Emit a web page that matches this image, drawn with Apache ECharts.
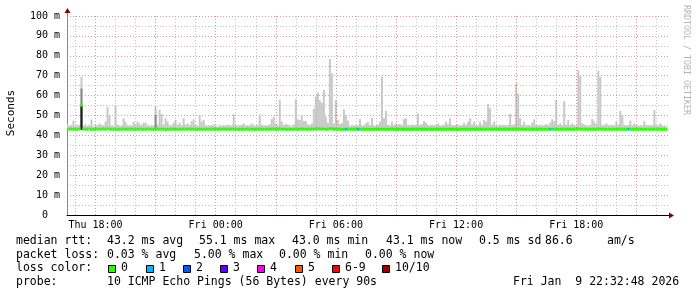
<!DOCTYPE html>
<html><head><meta charset="utf-8">
<script src="https://cdn.jsdelivr.net/npm/echarts@6/dist/echarts.min.js"></script>
<style>html,body{margin:0;padding:0;background:#fff}#c{width:697px;height:297px}</style>
</head><body><div id="c"></div>
<script>
// time base: hours since Thu 00:00, one sample every 6 minutes
const startHour = 16.6;
const stepHour = 0.1;
const axisMinHour = 16.577;
const axisMaxHour = 46.63;
const xTickHours = [18, 24, 30, 36, 42];
const xTickLabels = ['Thu 18:00', 'Fri 00:00', 'Fri 06:00', 'Fri 12:00', 'Fri 18:00'];
const yMax = 100;

// top of the smoke (slowest ping), ms
const smokeTop = [
45.7,44.8,45.2,47.4,44.9,45.3,44.7,69.5,45.0,45.7,
44.8,45.1,48.0,44.5,45.3,44.9,46.0,45.2,44.8,46.9,
54.4,50.2,45.0,44.7,55.3,45.4,45.0,44.8,48.6,46.9,
45.2,45.0,44.9,46.9,45.3,46.9,46.0,45.1,46.4,46.4,
45.0,44.8,45.3,44.9,54.4,45.6,52.8,50.8,45.4,48.6,
46.9,45.2,44.9,46.4,47.7,45.3,46.4,45.0,48.6,45.4,
46.0,45.1,47.2,48.1,45.3,44.9,50.3,46.9,47.7,45.2,
44.8,45.0,44.7,45.5,44.9,44.3,45.1,44.8,45.4,44.9,
45.2,44.7,45.0,50.6,45.3,44.8,45.1,45.4,46.0,44.9,
45.2,44.8,46.0,45.3,44.7,45.1,50.6,45.4,44.9,45.2,
45.0,45.6,48.2,49.4,46.0,45.3,57.9,47.0,45.2,46.0,
45.4,44.9,44.4,45.5,58.1,48.1,47.7,50.3,47.2,47.2,
45.6,45.2,45.9,53.3,59.5,61.5,57.8,56.4,62.8,49.4,
46.2,78.4,71.2,46.0,57.8,47.7,45.7,46.1,53.1,50.3,
47.4,44.4,45.2,44.9,45.3,44.8,48.2,45.1,44.9,46.0,
46.9,45.2,48.9,45.0,44.8,45.3,46.9,69.5,48.6,52.3,
45.4,45.0,46.9,45.2,46.0,45.3,45.7,45.1,48.2,48.6,
45.2,44.9,45.4,45.2,45.0,51.1,45.3,45.6,47.2,46.4,
45.1,44.8,45.3,44.9,45.2,46.0,45.0,44.8,45.3,46.9,
45.6,48.6,45.2,44.9,45.2,45.5,44.8,45.1,46.4,45.3,
46.9,48.6,45.4,46.9,45.2,45.0,46.9,45.3,47.7,46.9,
55.8,53.6,45.4,46.9,45.1,44.8,45.3,45.0,45.2,44.9,
45.3,50.8,45.2,45.6,66.2,61.0,48.6,45.3,46.9,45.0,
45.2,44.7,46.4,48.1,45.3,45.0,45.2,44.9,45.2,45.7,
45.1,46.4,48.1,47.2,57.8,45.3,46.0,45.1,57.3,45.4,
47.7,45.2,46.0,45.3,45.1,72.9,69.8,46.0,45.4,45.2,
44.9,45.3,48.2,46.9,45.6,72.4,69.5,45.2,45.0,46.0,
45.3,44.9,45.2,45.0,46.9,45.4,52.3,50.3,45.2,44.9,
45.3,47.4,45.1,46.0,45.2,44.8,45.3,45.0,47.2,45.1,
45.2,44.9,45.3,52.8,45.0,45.2,46.0,44.9,44.7,44.5
];
const smokeBottom = 42.8;

// median rtt, ms
const median = [
43.1,43.1,43.2,43.1,43.0,43.1,43.2,55.1,43.2,43.1,
43.1,43.2,43.1,43.0,43.1,43.2,43.1,43.1,43.2,43.1,
43.3,43.2,43.1,43.1,43.2,43.0,43.1,43.1,43.2,43.1,
43.1,43.2,43.1,43.1,43.0,43.1,43.2,43.1,43.1,43.1,
43.2,43.1,43.1,43.0,43.2,43.1,43.2,43.1,43.1,43.0,
43.1,43.1,43.2,43.1,43.1,43.0,43.1,43.1,43.2,43.1,
43.1,43.2,43.1,43.1,43.1,43.0,43.2,43.1,43.1,43.1,
43.1,43.1,43.2,43.1,43.0,43.1,43.1,43.1,43.2,43.1,
43.1,43.1,43.1,43.2,43.1,43.1,43.0,43.1,43.1,43.1,
43.2,43.1,43.1,43.1,43.0,43.1,43.2,43.1,43.1,43.1,
43.1,43.1,43.2,43.2,43.1,43.1,43.3,43.1,43.1,43.1,
43.0,43.1,43.1,43.1,43.2,43.1,43.1,43.2,43.1,43.1,
43.1,43.1,43.1,43.2,43.3,43.3,43.2,43.2,43.2,43.1,
43.1,43.4,43.3,43.1,43.2,43.1,43.1,43.0,43.1,43.1,
43.1,43.1,43.1,43.1,43.1,43.1,43.1,43.1,43.1,43.1,
43.1,43.0,43.1,43.1,43.1,43.1,43.1,43.2,43.1,43.1,
43.1,43.1,43.1,43.1,43.0,43.1,43.1,43.1,43.1,43.1,
43.1,43.1,43.1,43.1,43.1,43.1,43.1,43.1,43.1,43.1,
43.1,43.1,43.0,43.1,43.1,43.1,43.1,43.1,43.1,43.1,
43.1,43.1,43.1,43.1,43.1,43.0,43.1,43.1,43.1,43.1,
43.1,43.1,43.1,43.1,43.1,43.1,43.1,43.1,43.1,43.1,
43.2,43.1,43.1,43.1,43.1,43.1,43.1,43.1,43.1,43.1,
43.1,43.1,43.1,43.1,43.2,43.1,43.1,43.1,43.1,43.1,
43.1,43.1,43.1,43.1,43.1,43.1,43.1,43.1,43.1,43.1,
43.1,43.1,43.1,43.1,43.2,43.1,43.1,43.1,43.2,43.1,
43.1,43.1,43.1,43.1,43.1,43.3,43.2,43.1,43.1,43.1,
43.1,43.1,43.1,43.1,43.1,43.3,43.2,43.1,43.1,43.1,
43.1,43.1,43.1,43.1,43.1,43.1,43.2,43.1,43.1,43.1,
43.1,43.1,43.1,43.1,43.1,43.1,43.1,43.1,43.1,43.1,
43.1,43.1,43.1,43.2,43.1,43.1,43.1,43.1,43.1,43.1
];

// samples with packet loss (index into the series, lost pings of 10)
const lossIdx = [139, 145, 241, 280];
const lossCount = [1, 1, 1, 1];

// denser smoke at a couple of samples
const denseMidIdx = [7, 44];
const denseTopMid = [63.6, 50.3];
const denseDarkIdx = [7];
const denseTopDark = [55.0];

const lossLabels = ['0', '1', '2', '3', '4', '5', '6-9', '10/10'];
const lossColors = ['#26ff00', '#00b8ff', '#0059ff', '#5e00ff', '#ff00e7', '#ff5700', '#ff0000', '#a10000'];

const statRows = [
  ['median rtt:', '43.2 ms avg', '55.1 ms max', '43.0 ms min', '43.1 ms now', '0.5 ms sd', '86.6', 'am/s'],
  ['packet loss:', '0.03 % avg', '5.00 % max', '0.00 % min', '0.00 % now']
];
const probeText = ['probe:', '10 ICMP Echo Pings (56 Bytes) every 90s', 'Fri Jan  9 22:32:48 2026'];

// ---------------------------------------------------------------
const hourOf = i => startHour + stepHour * i;
const lossLevel = i => { const k = lossIdx.indexOf(i); if (k < 0) return 0; const c = lossCount[k]; return c >= 10 ? 7 : c >= 6 ? 6 : c; };

const smokeData = smokeTop.map((v, i) => [hourOf(i), smokeBottom, v]);
const midData = denseMidIdx.map((idx, k) => [hourOf(idx), smokeBottom, denseTopMid[k]]);
const darkData = denseDarkIdx.map((idx, k) => [hourOf(idx), smokeBottom, denseTopDark[k]]);
const medianData = median.map((v, i) => [hourOf(i), v, lossLevel(i)]);

function barRender(color) {
  return function (params, api) {
    const t = api.value(0), lo = api.value(1), hi = api.value(2);
    const p1 = api.coord([t, hi]), p0 = api.coord([t, lo]);
    const w = api.size([stepHour, 0])[0];
    return { type: 'rect', shape: { x: p1[0] - w / 2, y: p1[1], width: w, height: p0[1] - p1[1] }, style: { fill: color } };
  };
}

const gridLineData = [];
for (let h = Math.ceil(axisMinHour); h <= axisMaxHour; h++) {
  const major = h % 3 === 0;
  gridLineData.push({ xAxis: h, lineStyle: { color: major ? 'rgba(200,120,120,0.75)' : 'rgba(170,170,170,0.7)', type: [1, 2], width: 1 } });
}

const FONT = '"DejaVu Sans Mono", monospace';
const FS = 11.5;
const graphics = [];
const txt = (x, y, s, size) => graphics.push({ type: 'text', x: x, y: y, style: { text: s, font: size + 'px ' + FONT, fill: '#000', verticalAlign: 'middle', align: 'left' } });

const row1X = [16, 107, 199, 292, 386, 479, 545, 607];
const row2X = [16, 107, 194, 279, 365];
statRows[0].forEach((s, k) => txt(row1X[k], 241, s, FS));
statRows[1].forEach((s, k) => txt(row2X[k], 255, s, FS));
txt(16, 268.5, 'loss color:', FS);
const sqX = [108, 146, 183, 220, 257, 295, 332, 382];
lossLabels.forEach((l, k) => {
  graphics.push({ type: 'rect', shape: { x: sqX[k] + 0.5, y: 265.5, width: 7, height: 7 }, style: { fill: lossColors[k], stroke: '#000', lineWidth: 1 } });
  txt(sqX[k] + 13, 268.5, l, FS);
});
txt(16, 282.5, probeText[0], FS);
txt(107, 282.5, probeText[1], FS);
txt(513, 282.5, probeText[2], FS);

// y title
graphics.push({ type: 'text', x: 11, y: 113, rotation: Math.PI / 2, style: { text: 'Seconds', font: '11px ' + FONT, fill: '#000', align: 'center', verticalAlign: 'middle' } });
// watermark
graphics.push({ type: 'text', x: 686, y: 60, rotation: -Math.PI / 2, style: { text: 'RRDTOOL / TOBI OETIKER', font: '8.3px ' + FONT, fill: '#b4b4b4', align: 'center', verticalAlign: 'middle' } });
// axis extension + arrows
graphics.push({ type: 'line', shape: { x1: 67.5, y1: 16, x2: 67.5, y2: 11 }, style: { stroke: '#888', lineWidth: 1 } });
graphics.push({ type: 'polygon', shape: { points: [[64.5, 13], [70.5, 13], [67.5, 8]] }, style: { fill: '#7f0000' } });
graphics.push({ type: 'line', shape: { x1: 669, y1: 215.5, x2: 670, y2: 215.5 }, style: { stroke: '#000', lineWidth: 1 } });
graphics.push({ type: 'polygon', shape: { points: [[669, 212.5], [669, 218.5], [674, 215.5]] }, style: { fill: '#7f0000' } });

const chart = echarts.init(document.getElementById('c'), null, { renderer: 'canvas' });
chart.setOption({
  animation: false,
  backgroundColor: '#fff',
  grid: { left: 67, top: 16, width: 602, height: 199, containLabel: false },
  xAxis: {
    type: 'value', min: axisMinHour, max: axisMaxHour,
    axisLine: { show: true, lineStyle: { color: '#000', width: 1 } },
    axisTick: { show: false },
    splitLine: { show: false },
    axisLabel: {
      customValues: xTickHours, margin: 5,
      formatter: v => { const k = xTickHours.indexOf(Math.round(v)); return k >= 0 ? xTickLabels[k] : ''; },
      color: '#000', fontFamily: FONT, fontSize: 10
    }
  },
  yAxis: {
    type: 'value', min: 0, max: yMax, interval: 10,
    axisLine: { show: true, lineStyle: { color: '#888', width: 1 } },
    axisTick: { show: false },
    axisLabel: { margin: 7, color: '#000', fontFamily: FONT, fontSize: 10, formatter: v => v === 0 ? '0  ' : v + ' m' },
    splitLine: { show: true, lineStyle: { color: 'rgba(200,120,120,0.75)', type: [1, 2], width: 1 } },
    minorTick: { show: false, splitNumber: 2 },
    minorSplitLine: { show: true, lineStyle: { color: 'rgba(170,170,170,0.7)', type: [1, 2], width: 1 } }
  },
  series: [
    { type: 'line', data: [], silent: true, z: 1, markLine: { silent: true, symbol: 'none', label: { show: false }, data: gridLineData } },
    { type: 'custom', z: 2, silent: true, renderItem: barRender('#c8c8c8'), encode: { x: 0, y: [1, 2] }, data: smokeData, clip: true },
    { type: 'custom', z: 3, silent: true, renderItem: barRender('#8a8a8a'), encode: { x: 0, y: [1, 2] }, data: midData, clip: true },
    { type: 'custom', z: 4, silent: true, renderItem: barRender('#1a1a1a'), encode: { x: 0, y: [1, 2] }, data: darkData, clip: true },
    {
      type: 'custom', z: 5, silent: true, encode: { x: 0, y: 1 }, data: medianData, clip: true,
      renderItem: function (params, api) {
        const p = api.coord([api.value(0), api.value(1)]);
        const w = api.size([stepHour, 0])[0];
        return { type: 'rect', shape: { x: p[0] - w / 2, y: p[1] - 1.5, width: w, height: 3 }, style: { fill: lossColors[api.value(2)] } };
      }
    }
  ],
  graphic: graphics
});
</script></body></html>
